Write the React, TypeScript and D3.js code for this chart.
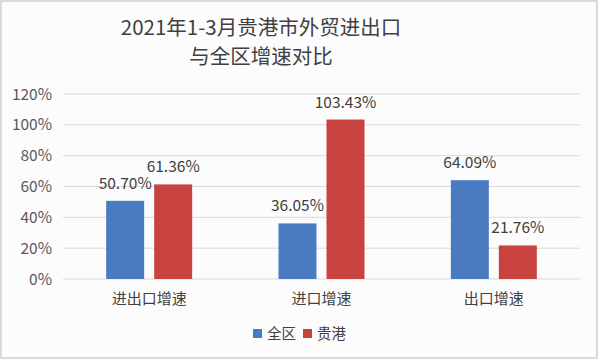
import React from "react";
import * as d3 from "d3";

const categories = ["进出口增速", "进口增速", "出口增速"];
const seriesNames = ["全区", "贵港"];
const quanqu = [50.70, 36.05, 64.09];
const guigang = [61.36, 103.43, 21.76];
const yTicks = [0, 20, 40, 60, 80, 100, 120];
const colors = ["#4A7BC1", "#C8423F"];
const titleLines = ["2021年1-3月贵港市外贸进出口", "与全区增速对比"];

const W = 599;
const H = 360;
const FONT = "'Noto Sans CJK SC', 'Noto Sans', sans-serif";

export default function App() {
  const x0 = d3.scaleBand<string>().domain(categories).range([63, 580]);
  const y = d3.scaleLinear().domain([0, 120]).range([279, 94]);
  const barW = 38;
  const gap = 10;
  const series = [quanqu, guigang];

  return (
    <div style={{ position: "fixed", left: 0, top: 0 }}>
      <svg width={W} height={H} style={{ display: "block", fontFamily: FONT }}>
        <rect x={0} y={0} width={W} height={H} fill="#fdfcfd" />
        <rect x={1} y={1} width={W - 3} height={H - 3} fill="none" stroke="#cfcfcf" strokeWidth={1.5} />
        {titleLines.map((t, i) => (
          <text key={i} x={261} y={35 + i * 29} textAnchor="middle" fontSize={20.5} fill="#404040">
            {t}
          </text>
        ))}
        {yTicks.map((v) => (
          <g key={v}>
            <line x1={63} x2={580} y1={y(v)} y2={y(v)} stroke="#d9d9d9" strokeWidth={1} />
            <text x={52} y={y(v) + 5.5} textAnchor="end" fontSize={15.5} fill="#595959">
              {v}%
            </text>
          </g>
        ))}
        {categories.map((c, ci) => {
          const cx = (x0(c) as number) + x0.bandwidth() / 2;
          return (
            <g key={c}>
              {series.map((s, si) => {
                const bx = si === 0 ? cx - gap / 2 - barW : cx + gap / 2;
                const v = s[ci];
                return (
                  <g key={si}>
                    <rect x={bx} y={y(v)} width={barW} height={y(0) - y(v)} fill={colors[si]} />
                    <text x={bx + barW / 2} y={y(v) - 12} textAnchor="middle" fontSize={15.5} fill="#404040">
                      {v.toFixed(2)}%
                    </text>
                  </g>
                );
              })}
              <text x={cx} y={304} textAnchor="middle" fontSize={15} fill="#404040">
                {c}
              </text>
            </g>
          );
        })}
        {seriesNames.map((n, i) => {
          const lx = 253 + i * 50;
          return (
            <g key={n}>
              <rect x={lx} y={329} width={9} height={9} fill={colors[i]} />
              <text x={lx + 14} y={338.5} fontSize={14.5} fill="#404040">
                {n}
              </text>
            </g>
          );
        })}
      </svg>
    </div>
  );
}
